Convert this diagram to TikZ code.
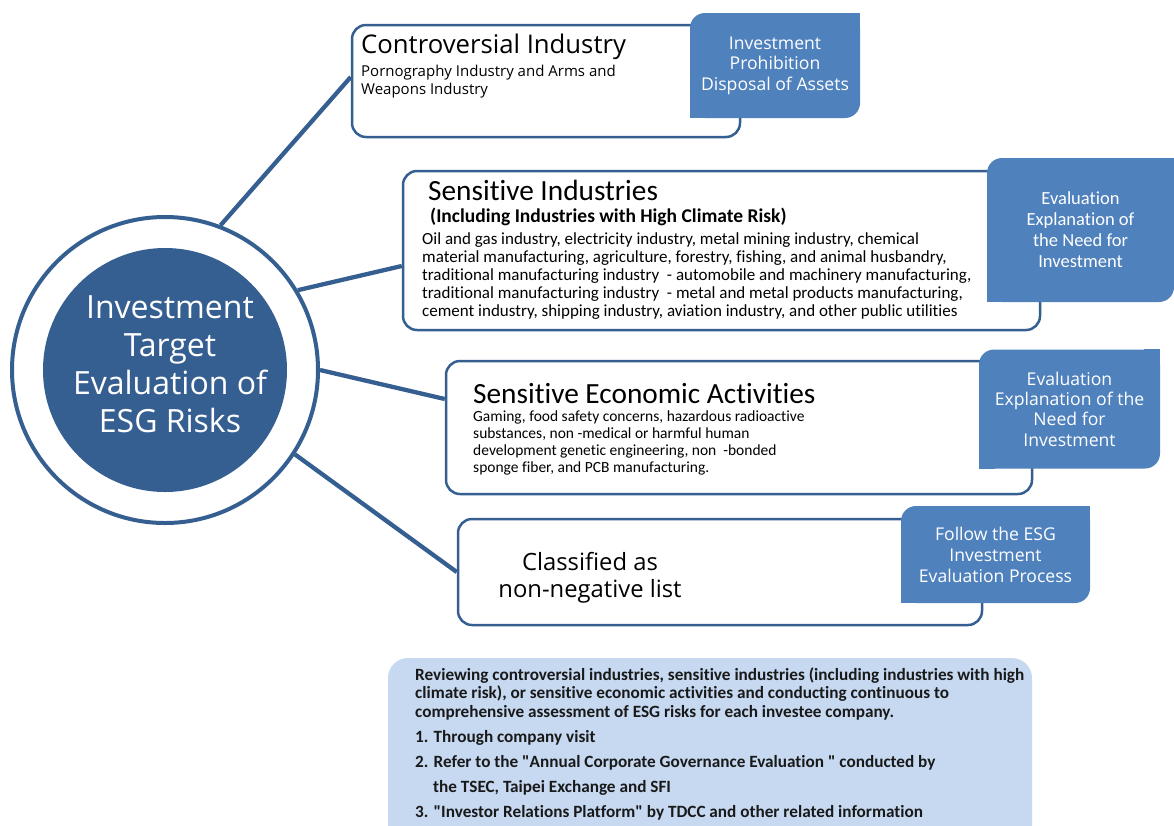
\documentclass[tikz,border=0pt]{standalone}
\usepackage{fontspec}
\setmainfont{Open Sans}
\newfontfamily\condfont[Ligatures=NoCommon]{Carlito}
\usetikzlibrary{calc}

\definecolor{darkblue}{HTML}{365F91}
\definecolor{tagblue}{HTML}{4F81BD}
\definecolor{paleblue}{HTML}{C6D9F1}

\tikzset{
  riskbox/.style={draw=darkblue, line width=2.5pt, rounded corners=14pt, fill=white, inner sep=0pt},
  tag/.style={fill=tagblue, rounded corners=15pt, inner sep=0pt, text=white, align=center},
  spoke/.style={darkblue, line width=4.3pt},
  hubtext/.style={text=white, align=center, inner sep=0pt, font=\fontsize{32}{38}\selectfont},
  head/.style={inner sep=0pt, font=\fontsize{25.7}{30}\selectfont},
  body/.style={inner sep=0pt, align=left, font=\fontsize{15}{17.5}\selectfont},
  condhead/.style={inner sep=0pt, font=\condfont\fontsize{29.3}{32}\selectfont},
  condsub/.style={inner sep=0pt, font=\condfont\bfseries\fontsize{19.5}{20}\selectfont},
  condbody/.style={inner sep=0pt, align=left, font=\condfont\fontsize{17}{18}\selectfont},
  notebody/.style={inner sep=0pt, align=left, text=black!90, font=\condfont\bfseries\fontsize{17.2}{18.5}\selectfont}
}

\begin{document}
\begin{tikzpicture}[x=1pt,y=-1pt]
  \clip (0,0) rectangle (1174,825);
  \fill[white] (0,0) rectangle (1174,825);

  % hub
  \node[circle, draw=darkblue, line width=4pt, minimum size=306pt, inner sep=0pt] (ring) at (165,370) {};
  \node[circle, fill=darkblue, minimum size=244pt, inner sep=0pt] (hub) at (165,370) {};
  \node[hubtext, anchor=base] (hubt) at (170,432) {Investment\\Target\\Evaluation of\\ESG Risks};

  % boxes
  \node[riskbox, minimum width=388pt, minimum height=112pt] (ctrl) at (546,81) {};
  \node[riskbox, minimum width=637pt, minimum height=159pt] (sens) at (721.5,250.5) {};
  \node[riskbox, minimum width=586pt, minimum height=133pt] (econ) at (739,427.5) {};
  \node[riskbox, minimum width=524pt, minimum height=106pt] (nonneg) at (720,572) {};

  % spokes
  \draw[spoke] (ring.69) -- ([yshift=4pt]ctrl.west);
  \draw[spoke] (ring.31) -- ([yshift=-15.5pt]sens.west);
  \draw[spoke] (ring.0) -- ([yshift=28.5pt]econ.west);
  \draw[spoke] (ring.-33) -- (nonneg.west);

  % tags, square corners top right and bottom left
  \node[tag, font=\fontsize{17.6}{20.5}\selectfont, minimum width=170pt, minimum height=105pt] (tag1) at (775,65.5)
    {Investment\\Prohibition\\Disposal of Assets};
  \node[tag, font=\condfont\fontsize{18.5}{21}\selectfont, minimum width=187pt, minimum height=144pt] (tag2) at (1080.5,230)
    {Evaluation\\Explanation of\\the Need for\\Investment};
  \node[tag, font=\fontsize{17.6}{20.3}\selectfont, minimum width=181pt, minimum height=119pt] (tag3) at (1069.5,409)
    {Evaluation\\Explanation of the\\Need for\\Investment};
  \node[tag, font=\fontsize{17.6}{21}\selectfont, minimum width=189pt, minimum height=97pt] (tag4) at (995.5,554.5)
    {Follow the ESG\\Investment\\Evaluation Process};
  \foreach \t in {tag1,tag2,tag3,tag4} {
    \fill[tagblue] (\t.north east) rectangle ++(-16,16);
    \fill[tagblue] (\t.south west) rectangle ++(16,-16);
  }

  % box texts (base = last line)
  \node[head, anchor=base west] (ctrlh) at (361,53) {Controversial Industry};
  \node[body, anchor=base west] (ctrlb) at (361,94) {Pornography Industry and Arms and\\Weapons Industry};

  \node[condhead, anchor=base west] (sensh) at (428,200) {Sensitive Industries};
  \node[condsub, anchor=base west] (senss) at (430,222) {(Including Industries with High Climate Risk)};
  \node[condbody, anchor=base west] (sensb) at (422,316)
    {Oil and gas industry, electricity industry, metal mining industry, chemical\\
     material manufacturing, agriculture, forestry, fishing, and animal husbandry,\\
     traditional manufacturing industry~ - automobile and machinery manufacturing,\\
     traditional manufacturing industry~ - metal and metal products manufacturing,\\
     cement industry, shipping industry, aviation industry, and other public utilities};

  \node[condhead, anchor=base west] (econh) at (473,403) {Sensitive Economic Activities};
  \node[condbody, font=\condfont\fontsize{15.5}{16.7}\selectfont, anchor=base west] (econb) at (473,472)
    {Gaming, food safety concerns, hazardous radioactive\\
     substances, non -medical or harmful human\\
     development genetic engineering, non~ -bonded\\
     sponge fiber, and PCB manufacturing.};

  \node[hubtext, text=black, font=\fontsize{23.8}{27}\selectfont, anchor=base] (nonnegt) at (590,597)
    {Classified as\\non-negative list};

  % review note
  \fill[paleblue, rounded corners=20pt] (388,658) rectangle (1032,860);
  \node[notebody, anchor=base west] (note) at (415,817)
    {Reviewing controversial industries, sensitive industries (including industries with high\\
     climate risk), or sensitive economic activities and conducting continuous to\\
     comprehensive assessment of ESG risks for each investee company.\\[6.5pt]
     1. Through company visit\\[6.5pt]
     2. Refer to the "Annual Corporate Governance Evaluation " conducted by\\[6.5pt]
     \hspace*{18pt}the TSEC, Taipei Exchange and SFI\\[6.5pt]
     3. "Investor Relations Platform" by TDCC and other related information};
\end{tikzpicture}
\end{document}
